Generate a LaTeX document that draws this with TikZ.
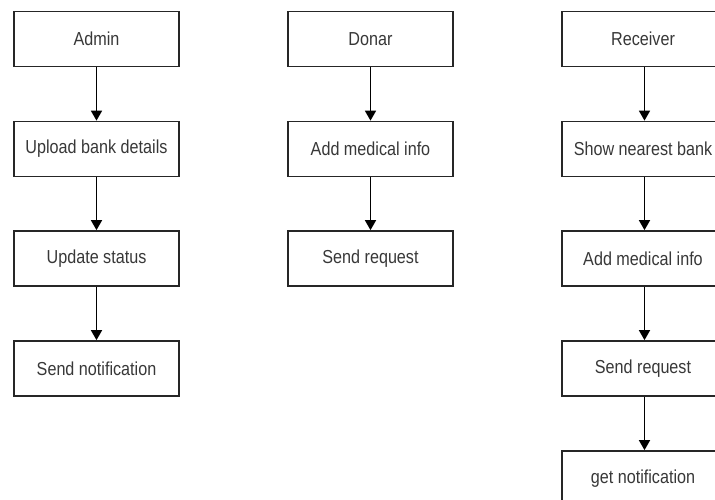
\documentclass[tikz,border=0pt]{standalone}
\usepackage{fontspec}
\setmainfont{Liberation Sans}
\usetikzlibrary{arrows.meta}
\newcommand{\narrowtext}[1]{\scalebox{0.86}[1]{#1}}
\tikzset{
  flowbox/.style={draw=black!85, line width=1.7pt, fill=white, minimum width=165pt, minimum height=55pt, inner sep=0pt},
  flowlabel/.style={font=\fontsize{18.8}{22}\selectfont, text=black!78, inner sep=0pt},
  flowarrow/.style={draw=black, line width=1.6pt, -{Triangle[width=11pt,length=10pt]}}
}
\begin{document}
\begin{tikzpicture}[x=1pt,y=-1pt]
\useasboundingbox (0,0) rectangle (715,500);
\clip (0,0) rectangle (715,500);
% column 1
\node[flowbox] (a1) at (96.5,39) {};
\node[flowbox] (a2) at (96.5,149) {};
\node[flowbox] (a3) at (96.5,258.5) {};
\node[flowbox] (a4) at (96.5,368.5) {};
\node[flowlabel] (la1) at (a1) {\narrowtext{Admin}};
\node[flowlabel] (la2) at (a2) {\narrowtext{Upload bank details}};
\node[flowlabel] (la3) at (a3) {\narrowtext{Update status}};
\node[flowlabel] (la4) at (a4) {\narrowtext{Send notification}};
% column 2
\node[flowbox] (d1) at (370.5,39) {};
\node[flowbox] (d2) at (370.5,149) {};
\node[flowbox] (d3) at (370.5,258.5) {};
\node[flowlabel] (ld1) at (d1) {\narrowtext{Donar}};
\node[flowlabel] (ld2) at (d2) {\narrowtext{Add medical info}};
\node[flowlabel] (ld3) at (d3) {\narrowtext{Send request}};
% column 3 (partly outside the frame)
\node[flowbox] (r1) at (644.5,39) {};
\node[flowbox] (r2) at (644.5,149) {};
\node[flowbox] (r3) at (644.5,258.5) {};
\node[flowbox] (r4) at (644.5,368.5) {};
\node[flowbox] (r5) at (644.5,478.5) {};
\node[flowlabel] (t1) at (643,39) {\narrowtext{Receiver}};
\node[flowlabel] (t2) at (643,149) {\narrowtext{Show nearest bank}};
\node[flowlabel] (t3) at (643,258.5) {\narrowtext{Add medical info}};
\node[flowlabel] (t4) at (643,368.5) {\narrowtext{Send request}};
\node[flowlabel] (t5) at (643,478.5) {\narrowtext{get notification}};
% arrows
\draw[flowarrow] (a1) -- (a2);
\draw[flowarrow] (a2) -- (a3);
\draw[flowarrow] (a3) -- (a4);
\draw[flowarrow] (d1) -- (d2);
\draw[flowarrow] (d2) -- (d3);
\draw[flowarrow] (r1) -- (r2);
\draw[flowarrow] (r2) -- (r3);
\draw[flowarrow] (r3) -- (r4);
\draw[flowarrow] (r4) -- (r5);
\end{tikzpicture}
\end{document}
